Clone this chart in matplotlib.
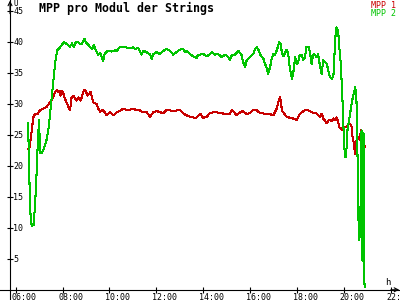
import matplotlib
matplotlib.use("Agg")
import matplotlib.pyplot as plt
import matplotlib.transforms as mtransforms
import numpy as np

plt.rcParams["font.family"] = "DejaVu Sans Mono"

RED = "#c80000"
GREEN = "#00c400"

# ── data: minutes after 06:00 and volts per module ──────────────────────────
mpp1_min = [32, 35, 37, 39, 42, 45, 49, 57, 62, 71,
            79, 88, 96, 101, 105, 109, 112, 115, 119, 122,
            126, 130, 135, 139, 143, 147, 152, 156, 160, 165,
            169, 173, 176, 180, 184, 188, 192, 195, 199, 203,
            207, 211, 216, 224, 233, 241, 250, 258, 267, 275,
            284, 292, 301, 310, 318, 326, 335, 344, 352, 361,
            369, 378, 386, 395, 403, 412, 420, 429, 438, 446,
            454, 459, 463, 472, 480, 489, 497, 506, 514, 523,
            531, 540, 548, 553, 557, 565, 574, 582, 591, 599,
            608, 617, 625, 634, 642, 651, 659, 668, 672, 676,
            679, 681, 685, 693, 702, 710, 719, 723, 727, 736,
            744, 753, 761, 770, 779, 783, 787, 791, 796, 800,
            804, 809, 813, 817, 821, 825, 828, 832, 835, 838,
            843, 847, 851, 855, 859, 862, 866, 868, 871, 872,
            875, 878, 881, 883, 885, 888, 889, 891, 893]
mpp1_val = [22.7, 22.9, 23.6, 24.6, 26.2, 27.8, 28.3, 28.4, 28.9, 29.2,
            29.5, 30.2, 31.0, 31.9, 32.2, 31.9, 32.1, 31.3, 32.1, 31.6,
            30.8, 30.2, 29.5, 28.9, 31.0, 31.3, 30.8, 30.5, 31.0, 30.5,
            31.0, 31.9, 32.2, 31.9, 31.3, 31.6, 31.9, 31.0, 30.2, 30.1,
            29.9, 29.2, 28.7, 29.0, 28.1, 28.6, 28.1, 28.6, 28.8, 29.2,
            29.0, 29.0, 29.2, 28.9, 28.9, 28.6, 28.6, 27.9, 28.6, 28.8,
            28.6, 28.5, 29.0, 28.9, 28.8, 28.9, 29.0, 28.4, 28.1, 27.9,
            27.8, 27.6, 27.8, 28.4, 27.7, 27.9, 28.5, 28.6, 28.6, 28.5,
            28.4, 28.3, 28.4, 28.9, 28.8, 28.1, 28.6, 28.8, 28.3, 28.5,
            29.0, 28.9, 28.5, 28.4, 28.4, 28.3, 28.1, 29.2, 30.2, 31.0,
            30.2, 28.9, 28.6, 27.9, 27.7, 27.6, 27.4, 27.8, 28.3, 28.8,
            29.0, 28.8, 28.5, 28.4, 27.8, 28.4, 27.6, 27.3, 26.8, 27.3,
            27.4, 27.2, 27.6, 27.3, 27.8, 27.1, 26.2, 26.0, 25.7, 26.0,
            26.2, 26.3, 26.7, 26.7, 26.5, 24.6, 23.5, 21.9, 23.0, 24.1,
            24.4, 24.6, 24.1, 25.7, 25.5, 24.1, 24.6, 23.8, 23.0]

mpp2_min = [32, 33, 35, 37, 40, 42, 46, 49, 52, 55,
            57, 60, 62, 66, 70, 75, 80, 85, 90, 95,
            101, 106, 113, 118, 124, 129, 134, 139, 144, 149,
            154, 159, 165, 170, 176, 180, 185, 190, 195, 200,
            205, 211, 216, 224, 228, 236, 245, 254, 259, 267,
            280, 285, 298, 300, 305, 313, 322, 326, 335, 344,
            348, 352, 361, 369, 378, 386, 395, 403, 412, 420,
            429, 433, 438, 446, 454, 463, 467, 472, 480, 489,
            497, 502, 510, 518, 527, 536, 544, 548, 553, 561,
            570, 578, 582, 587, 591, 599, 608, 612, 617, 621,
            625, 629, 634, 638, 642, 646, 651, 655, 659, 663,
            668, 672, 674, 678, 681, 685, 689, 693, 697, 700,
            704, 707, 710, 715, 719, 723, 727, 732, 736, 740,
            744, 749, 753, 757, 760, 763, 767, 770, 774, 779,
            783, 787, 791, 796, 800, 804, 809, 813, 815, 818,
            821, 825, 828, 832, 834, 837, 839, 842, 844, 847,
            849, 853, 857, 861, 866, 869, 872, 874, 876, 878,
            879, 881, 883, 884, 885, 887, 889, 890, 891, 892,
            893]
mpp2_val = [26.8, 23.0, 17.6, 12.8, 10.7, 10.3, 10.5, 13.3, 16.5, 21.3,
            24.5, 27.4, 22.0, 22.0, 22.4, 23.3, 24.4, 26.5, 29.7, 33.0,
            36.6, 38.6, 39.0, 39.5, 39.9, 39.7, 39.4, 39.2, 39.7, 39.2,
            39.9, 39.9, 39.6, 39.7, 40.4, 39.8, 39.6, 39.1, 38.8, 39.4,
            38.6, 37.9, 38.2, 36.9, 38.1, 38.5, 38.4, 38.6, 38.5, 39.2,
            39.2, 39.0, 39.0, 39.1, 38.8, 39.0, 37.9, 38.5, 38.3, 37.9,
            37.2, 38.0, 38.3, 38.0, 38.5, 38.8, 38.5, 37.9, 38.3, 38.7,
            38.8, 38.3, 38.5, 38.0, 37.6, 37.4, 37.9, 37.9, 38.0, 37.6,
            38.0, 38.3, 37.9, 38.0, 37.5, 37.9, 37.5, 37.1, 37.8, 37.9,
            38.5, 37.8, 36.7, 35.9, 37.0, 37.5, 38.0, 38.8, 39.1, 38.7,
            38.0, 37.6, 37.2, 36.4, 35.8, 34.8, 35.9, 37.2, 38.0, 37.8,
            38.6, 39.4, 39.9, 39.6, 38.3, 37.6, 38.1, 38.7, 38.3, 36.4,
            34.8, 34.0, 34.8, 37.5, 36.4, 36.7, 37.9, 37.8, 37.0, 37.5,
            39.1, 39.2, 38.3, 36.4, 37.5, 38.0, 37.8, 37.5, 38.0, 35.9,
            34.8, 37.0, 36.7, 36.4, 35.3, 34.3, 34.0, 34.5, 37.0, 40.7,
            42.3, 41.8, 39.1, 36.4, 33.7, 29.4, 25.7, 21.9, 21.4, 23.0,
            25.7, 27.3, 28.9, 30.5, 31.9, 32.7, 30.5, 24.6, 15.5, 8.5,
            8.0, 9.0, 15.5, 21.9, 25.7, 4.7, 18.2, 25.2, 24.6, 1.5,
            0.4]

x_ticks = [6, 8, 10, 12, 14, 16, 18, 20, 22]
x_labels = ["06:00", "08:00", "10:00", "12:00", "14:00",
            "16:00", "18:00", "20:00", "22:00"]
y_ticks = [5, 10, 15, 20, 25, 30, 35, 40, 45]

# ── figure: axes fill the canvas, spines cross at (05:45, 0) ────────────────
W, H = 400, 300
fig = plt.figure(figsize=(W / 100, H / 100), dpi=100)
ax = fig.add_axes([0, 0, 1, 1])
ax.set_xlim(5.33, 22.39)
ax.set_ylim(-1.65, 46.7)
X0 = 5.757

t1 = 6 + np.asarray(mpp1_min) / 60
t2 = 6 + np.asarray(mpp2_min) / 60
ax.plot(t1, mpp1_val, color=RED, lw=0.75, antialiased=False, zorder=3)
ax.plot(t2, mpp2_val, color=GREEN, lw=0.75, antialiased=False, zorder=4)

for side in ("top", "right"):
    ax.spines[side].set_visible(False)
ax.spines["left"].set_position(("data", X0))
ax.spines["bottom"].set_position(("data", 0))
for side in ("left", "bottom"):
    ax.spines[side].set_linewidth(0.8)

ax.set_xticks(x_ticks, x_labels)
ax.set_yticks(y_ticks, [str(v) for v in y_ticks])
ax.tick_params(axis="both", direction="inout", length=5, width=0.8,
               labelsize=6)
ax.tick_params(axis="y", pad=-4.7)
ax.tick_params(axis="x", pad=-0.5)
for lbl in ax.get_yticklabels():
    lbl.set_ha("left")
shift = mtransforms.ScaledTranslation(-4.5 / 100, 0, fig.dpi_scale_trans)
for lbl in ax.get_xticklabels():
    lbl.set_ha("left")
    lbl.set_transform(lbl.get_transform() + shift)

# arrow heads on both axes
arrow = dict(arrowstyle="->", lw=0.8, color="black", shrinkA=0, shrinkB=0,
             mutation_scale=7)
ax.annotate("", xy=(22.36, 0), xytext=(22.0, 0), arrowprops=arrow)
ax.annotate("", xy=(X0, 46.6), xytext=(X0, 44.5), arrowprops=arrow)

# labels, title, legend (pixel positions from the top-left)
def px(x, y):
    return x / W, 1 - y / H

fig.text(*px(13, -1.5), "U", fontsize=5.5, va="top", ha="left")
fig.text(*px(385, 278), "h", fontsize=6.5, va="top", ha="left")
fig.text(*px(39, 2), "MPP pro Modul der Strings", fontsize=8.4,
         fontweight="bold", va="top", ha="left")
fig.text(*px(396, 0.5), "MPP 1", fontsize=6, color=RED, va="top", ha="right")
fig.text(*px(396, 8.5), "MPP 2", fontsize=6, color=GREEN, va="top", ha="right")

fig.savefig("out.png", dpi=100)
